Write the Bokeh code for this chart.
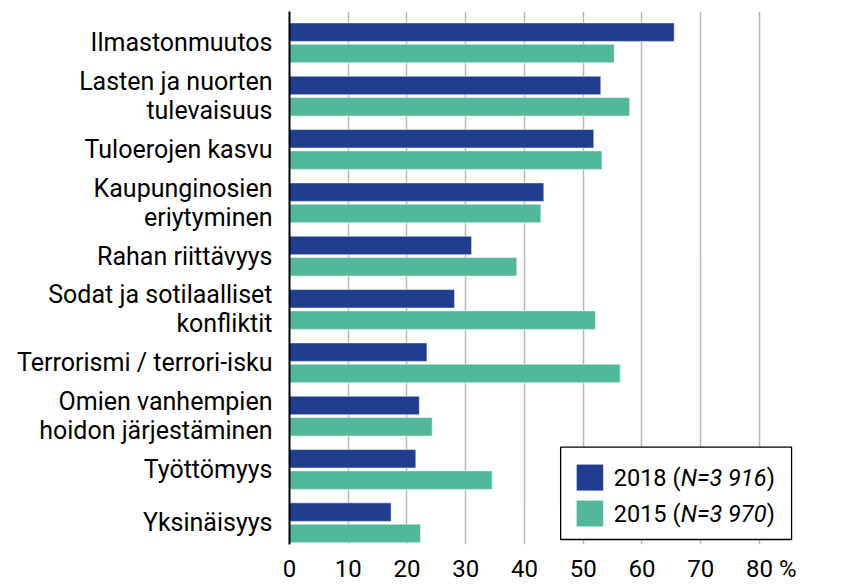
from bokeh.plotting import figure
from bokeh.models import Range1d, FixedTicker, ColumnDataSource
from bokeh.core.properties import value
from bokeh.embed import file_html
from bokeh.resources import INLINE

categories = [
    "Ilmastonmuutos",
    "Lasten ja nuorten\ntulevaisuus",
    "Tuloerojen kasvu",
    "Kaupunginosien\neriytyminen",
    "Rahan riittävyys",
    "Sodat ja sotilaalliset\nkonfliktit",
    "Terrorismi / terrori-isku",
    "Omien vanhempien\nhoidon järjestäminen",
    "Työttömyys",
    "Yksinäisyys",
]
values_2018 = [65.5, 53.0, 51.8, 43.3, 31.0, 28.1, 23.4, 22.1, 21.5, 17.3]
values_2015 = [55.3, 57.9, 53.2, 42.8, 38.7, 52.1, 56.3, 24.3, 34.5, 22.3]
series_years = ["2018", "2015"]
series_n = ["N=3 916", "N=3 970"]
x_ticks = [0, 10, 20, 30, 40, 50, 60, 70, 80]
x_tick_labels = ["0", "10", "20", "30", "40", "50", "60", "70", "\u00a0\u00a0\u00a0\u00a080 %"]

COL_2018 = "#213d8f"
COL_2015 = "#52b89a"
FONT = "Roboto"

n = len(categories)
idx = list(range(n))
src = ColumnDataSource(dict(
    y18=[i - 0.2 for i in idx],
    y15=[i + 0.2 for i in idx],
    v18=values_2018,
    v15=values_2015,
))

p = figure(
    width=860, height=586,
    x_range=Range1d(0, 87),
    y_range=Range1d(n - 1 + 0.407, -0.587),
    output_backend="svg", toolbar_location=None,
    min_border_left=289, min_border_right=60,
    min_border_top=11, min_border_bottom=42,
)
p.outline_line_color = None
p.background_fill_color = "white"
p.border_fill_color = "white"

p.hbar(y="y18", left=0, right="v18", height=0.347, source=src,
       fill_color=COL_2018, line_color="white", line_alpha=0.5, line_width=1)
p.hbar(y="y15", left=0, right="v15", height=0.347, source=src,
       fill_color=COL_2015, line_color="white", line_alpha=0.5, line_width=1)

# x axis
p.xaxis.ticker = FixedTicker(ticks=x_ticks)
p.xaxis.major_label_overrides = {t: l for t, l in zip(x_ticks, x_tick_labels)}
p.xaxis.axis_line_color = None
p.xaxis.major_tick_line_color = None
p.xaxis.major_tick_out = 0
p.xaxis.major_tick_in = 0
p.xaxis.minor_tick_line_color = None
p.xaxis.major_label_text_font = FONT
p.xaxis.major_label_text_font_size = "24px"
p.xaxis.major_label_text_color = "black"
p.xaxis.major_label_standoff = 10
p.xaxis.axis_label_standoff = 0

# y axis
p.yaxis.ticker = FixedTicker(ticks=idx)
p.yaxis.major_label_overrides = {i: c for i, c in zip(idx, categories)}
p.yaxis.axis_line_color = "black"
p.yaxis.axis_line_width = 2
p.yaxis.major_tick_line_color = None
p.yaxis.major_tick_out = 0
p.yaxis.major_tick_in = 0
p.yaxis.minor_tick_line_color = None
p.yaxis.major_label_text_font = FONT
p.yaxis.major_label_text_font_size = "25px"
p.yaxis.major_label_text_color = "black"
p.yaxis.major_label_text_line_height = 1.0
p.yaxis.major_label_standoff = 17

# grid
p.xgrid.ticker = FixedTicker(ticks=x_ticks)
p.xgrid.grid_line_color = "#b8b8b8"
p.xgrid.grid_line_width = 1.5
p.ygrid.grid_line_color = None

# legend (drawn by hand so that the N part can be italic)
LEG_BOX = dict(left=46.16, right=85.48, top=7.583, bottom=9.313)
SW_LEFT, SW_RIGHT, SW_H = 48.89, 53.41, 0.4875
ROW_Y = [8.152, 8.827]
TXT_X = 55.2
p.quad(left=[LEG_BOX["left"]], right=[LEG_BOX["right"]],
       top=[LEG_BOX["top"]], bottom=[LEG_BOX["bottom"]],
       fill_color="white", line_color="black", line_width=1.3)
p.quad(left=[SW_LEFT] * 2, right=[SW_RIGHT] * 2,
       top=[y - SW_H / 2 for y in ROW_Y], bottom=[y + SW_H / 2 for y in ROW_Y],
       fill_color=[COL_2018, COL_2015], line_color=None)
fs = "23.5px"
p.text(x=[TXT_X] * 2, y=ROW_Y, text=[f"{y} (" for y in series_years],
       text_font=value(FONT), text_font_size=fs, text_color="black",
       text_baseline="middle", text_align="left")
p.text(x=[TXT_X] * 2, y=ROW_Y, text=series_n, x_offset=67,
       text_font=value(FONT), text_font_size=fs, text_font_style="italic",
       text_color="black", text_baseline="middle", text_align="left")
p.text(x=[TXT_X] * 2, y=ROW_Y, text=[")"] * 2, x_offset=67 + 86,
       text_font=value(FONT), text_font_size=fs, text_color="black",
       text_baseline="middle", text_align="left")

open("out.html", "w").write(file_html(p, INLINE))
